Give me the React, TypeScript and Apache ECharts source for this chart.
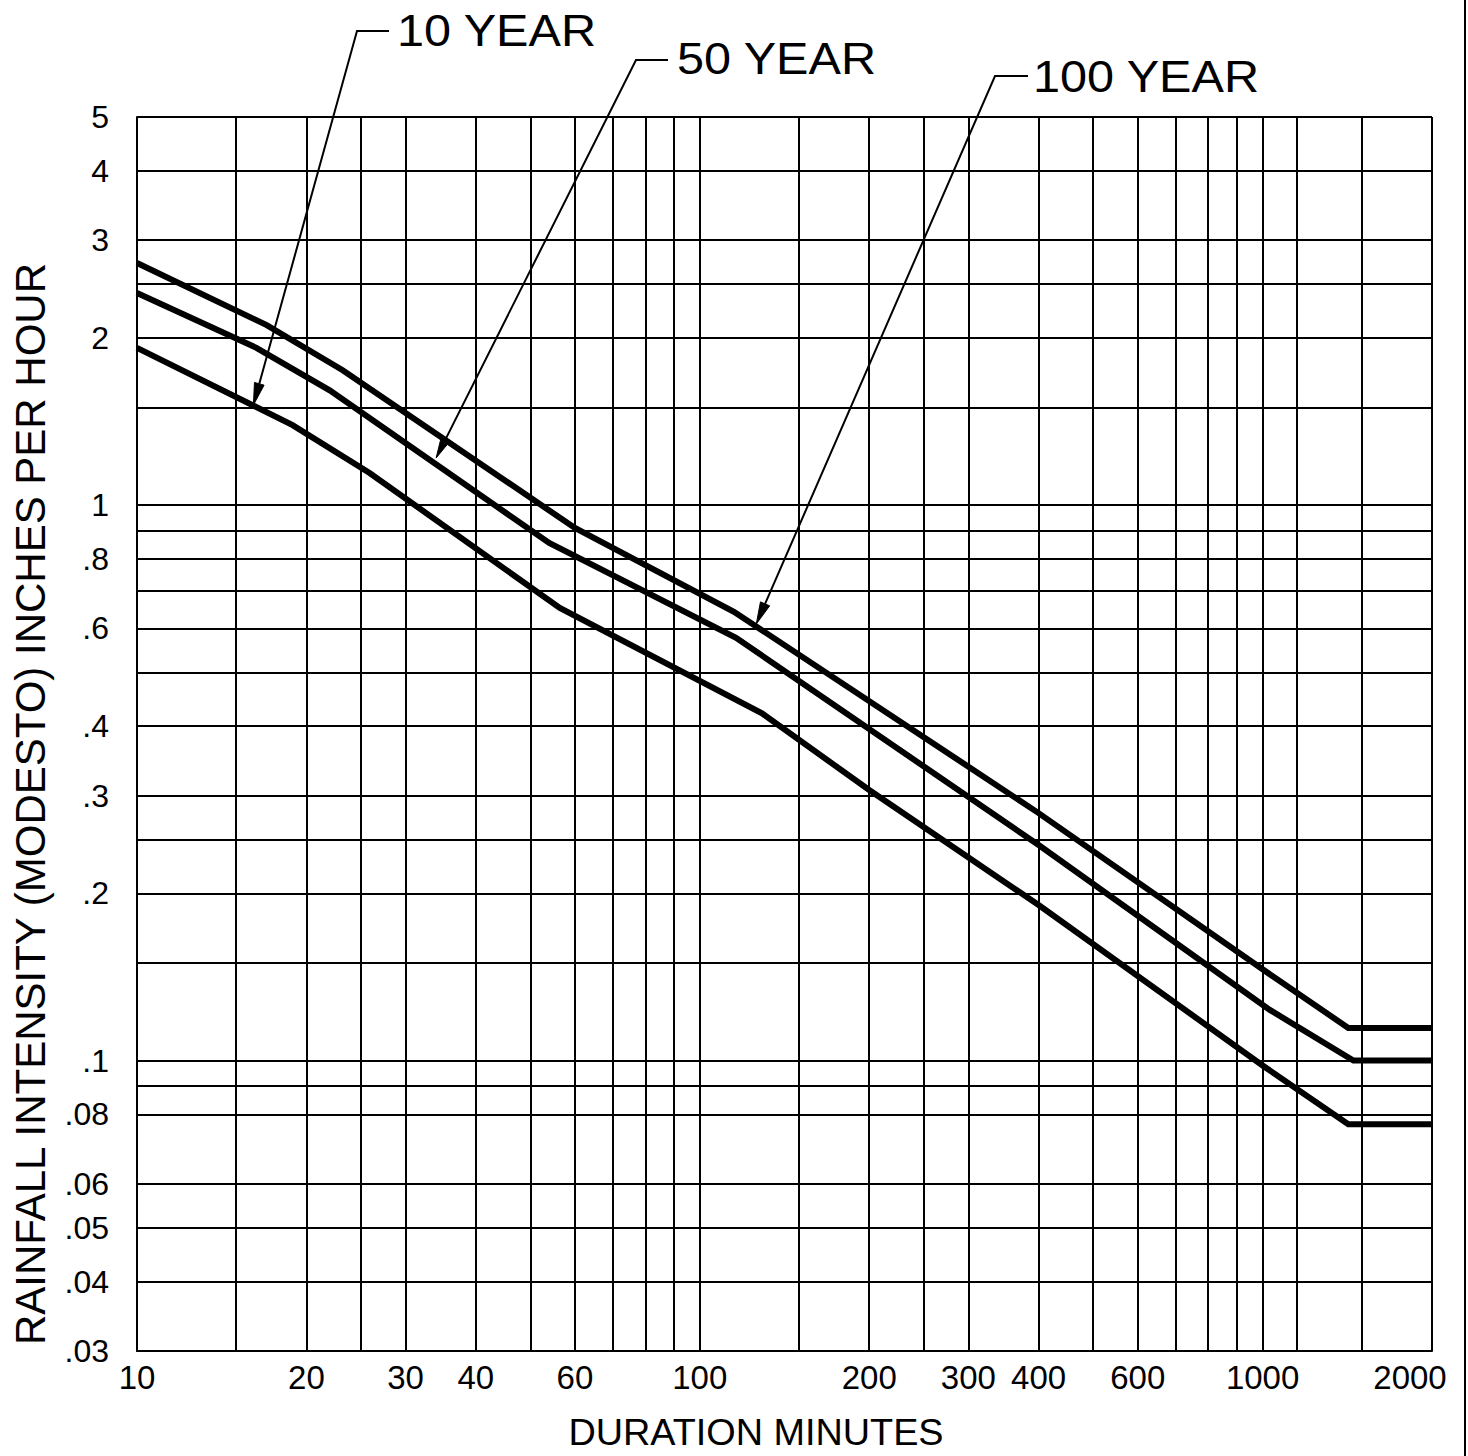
import React, { useEffect, useRef } from 'react';
import * as echarts from 'echarts';

// Grid lines and tick labels
const xGridValues = [10, 15, 20, 25, 30, 40, 50, 60, 70, 80, 90, 100, 150, 200, 250, 300, 400, 500, 600, 700, 800, 900, 1000, 1150, 1500, 2000];
const xTickLabels = [10, 20, 30, 40, 60, 100, 200, 300, 400, 600, 1000, 2000];
const yGridValues = [0.03, 0.04, 0.05, 0.06, 0.08, 0.09, 0.1, 0.15, 0.2, 0.25, 0.3, 0.4, 0.5, 0.6, 0.7, 0.8, 0.9, 1, 1.5, 2, 2.5, 3, 4, 5];
const yTickLabels = [0.03, 0.04, 0.05, 0.06, 0.08, 0.1, 0.2, 0.3, 0.4, 0.6, 0.8, 1, 2, 3, 4, 5];

// Series (duration in minutes, intensity in inches per hour)
const durations100 = [10, 17, 23.2, 60, 115, 400, 1000, 1420, 2000];
const intensity100 = [2.73, 2.11, 1.75, 0.91, 0.643, 0.279, 0.146, 0.1145, 0.1145];

const durations50 = [10, 16.3, 22, 54, 116, 400, 1030, 1450, 2000];
const intensity50 = [2.41, 1.92, 1.61, 0.855, 0.577, 0.2444, 0.1234, 0.1, 0.1];

const durations10 = [10, 18.9, 25.9, 56.4, 129, 200, 400, 1000, 1420, 2000];
const intensity10 = [1.92, 1.394, 1.143, 0.653, 0.422, 0.307, 0.1906, 0.098, 0.0768, 0.0768];

// Annotation labels and where their arrows point (data coordinates)
const annotationLabels = ['10 YEAR', '50 YEAR', '100 YEAR'];
const arrowTipDurations = [16.1, 34, 126];
const arrowTipIntensities = [1.515, 1.216, 0.611];

const FONT = '"Liberation Sans", Arial, sans-serif';

export default function App() {
  const ref = useRef<HTMLDivElement>(null);

  useEffect(() => {
    if (!ref.current) return;
    const chart = echarts.init(ref.current, null, { renderer: 'svg' });

    const pairs = (xs: number[], ys: number[]) => xs.map((x, i) => [x, ys[i]]);
    const lineSeries = (name: string, data: number[][]) => ({
      name,
      type: 'line',
      data,
      symbol: 'none',
      showSymbol: false,
      silent: true,
      lineStyle: { color: '#000', width: 6, join: 'miter' },
      z: 5,
    });

    chart.setOption({
      animation: false,
      backgroundColor: '#fff',
      grid: { left: 137, right: 36, top: 117, bottom: 105, containLabel: false, outerBoundsMode: 'none' },
      xAxis: {
        type: 'log',
        logBase: 10,
        min: 10,
        max: 2000,
        axisLine: { show: true, lineStyle: { color: '#000', width: 2 } },
        axisTick: { show: false, customValues: xGridValues },
        minorTick: { show: false },
        minorSplitLine: { show: false },
        splitLine: { show: true, lineStyle: { color: '#000', width: 2 } },
        axisLabel: {
          customValues: xTickLabels,
          margin: 10,
          color: '#000',
          fontSize: 33,
          fontFamily: FONT,
          formatter: (v: number) => (v === 2000 ? '{s|2000}' : String(v)),
          rich: { s: { padding: [0, 44, 0, 0], fontSize: 33, fontFamily: FONT, color: '#000' } },
        },
      },
      yAxis: {
        type: 'log',
        logBase: 10,
        min: 0.03,
        max: 5,
        axisLine: { show: true, lineStyle: { color: '#000', width: 2 } },
        axisTick: { show: false, customValues: yGridValues },
        minorTick: { show: false },
        minorSplitLine: { show: false },
        splitLine: { show: true, lineStyle: { color: '#000', width: 2 } },
        axisLabel: {
          customValues: yTickLabels,
          margin: 28,
          color: '#000',
          fontSize: 32,
          fontFamily: FONT,
          formatter: (v: number) => String(Number(v.toPrecision(6))).replace(/^0\./, '.'),
        },
      },
      series: [
        lineSeries('100 YEAR', pairs(durations100, intensity100)),
        lineSeries('50 YEAR', pairs(durations50, intensity50)),
        lineSeries('10 YEAR', pairs(durations10, intensity10)),
      ],
    });

    // Leader lines and labels
    const corners = [[357, 31], [636, 60], [995, 76]];
    const hEnds = [389, 668, 1028];
    const textX = [397, 677, 1033];
    const textY = [31, 59, 77];
    const L = 22;
    const W = 5;
    const graphics: any[] = [];
    annotationLabels.forEach((label, i) => {
      const tip = chart.convertToPixel({ gridIndex: 0 }, [arrowTipDurations[i], arrowTipIntensities[i]]) as number[];
      const [cx, cy] = corners[i];
      const dx = tip[0] - cx;
      const dy = tip[1] - cy;
      const len = Math.sqrt(dx * dx + dy * dy);
      const ux = dx / len;
      const uy = dy / len;
      const bx = tip[0] - ux * L;
      const by = tip[1] - uy * L;
      const nx = -uy;
      const ny = ux;
      graphics.push({
        type: 'polyline',
        silent: true,
        z: 10,
        shape: { points: [[hEnds[i], cy], [cx, cy], [bx, by]] },
        style: { stroke: '#000', lineWidth: 2, fill: null },
      });
      graphics.push({
        type: 'polygon',
        silent: true,
        z: 10,
        shape: { points: [[tip[0], tip[1]], [bx + nx * W, by + ny * W], [bx - nx * W, by - ny * W]] },
        style: { fill: '#000', stroke: '#000', lineWidth: 1 },
      });
      graphics.push({
        type: 'text',
        x: textX[i],
        y: textY[i],
        scaleX: 1.08,
        silent: true,
        z: 10,
        style: {
          text: label,
          fontSize: 45,
          fontFamily: FONT,
          fill: '#000',
          align: 'left',
          verticalAlign: 'middle',
          textAlign: 'left',
          textVerticalAlign: 'middle',
        },
      });
    });

    graphics.push({
      type: 'text',
      x: 30,
      y: 804,
      rotation: Math.PI / 2,
      silent: true,
      style: {
        text: 'RAINFALL INTENSITY (MODESTO) INCHES PER HOUR',
        fontSize: 42,
        fontFamily: FONT,
        fill: '#000',
        align: 'center',
        verticalAlign: 'middle',
        textAlign: 'center',
        textVerticalAlign: 'middle',
      },
    });
    graphics.push({
      type: 'text',
      x: 756,
      y: 1433,
      scaleX: 1.05,
      silent: true,
      style: {
        text: 'DURATION MINUTES',
        fontSize: 36,
        fontFamily: FONT,
        fill: '#000',
        align: 'center',
        verticalAlign: 'middle',
        textAlign: 'center',
        textVerticalAlign: 'middle',
      },
    });
    graphics.push({
      type: 'line',
      silent: true,
      shape: { x1: 1465, y1: 0, x2: 1465, y2: 1456 },
      style: { stroke: '#000', lineWidth: 2 },
    });

    chart.setOption({ graphic: graphics });

    return () => {
      chart.dispose();
    };
  }, []);

  return (
    <div
      ref={ref}
      style={{ position: 'absolute', left: 0, top: 0, width: 1468, height: 1456 }}
    />
  );
}
